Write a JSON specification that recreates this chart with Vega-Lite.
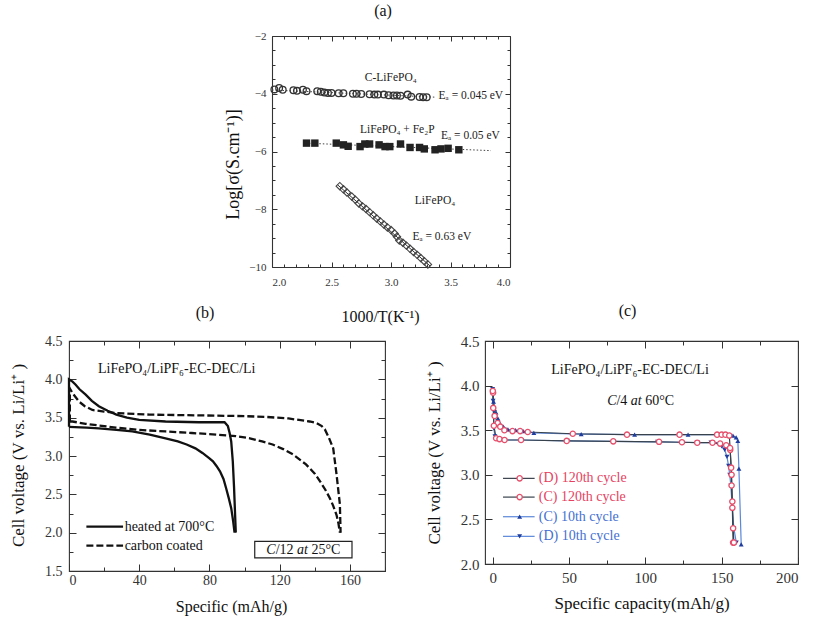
{
  "$schema": "https://vega.github.io/schema/vega-lite/v6.json",
  "background": "white",
  "padding": {"left": 8, "top": 3, "right": 5, "bottom": 5},
  "config": {
    "font": "Liberation Serif",
    "view": {"stroke": "#333", "strokeWidth": 1.1},
    "axis": {"grid": false, "domain": false, "labelOverlap": false, "labelColor": "#333", "titleColor": "#111", "tickColor": "#333", "domainColor": "#333", "domainWidth": 1.1, "titleFontWeight": "normal", "labelFontWeight": "normal", "tickWidth": 1},
    "title": {"fontSize": 16, "fontWeight": "normal", "color": "#111"}
  },
  "datasets": {
    "a_c": [
      {"x": 2.02, "y": -3.85}, {"x": 2.06, "y": -3.80}, {"x": 2.09, "y": -3.86}, {"x": 2.18, "y": -3.88}, {"x": 2.21, "y": -3.90},
      {"x": 2.26, "y": -3.86}, {"x": 2.29, "y": -3.91}, {"x": 2.38, "y": -3.91}, {"x": 2.41, "y": -3.93}, {"x": 2.44, "y": -3.96},
      {"x": 2.47, "y": -3.97}, {"x": 2.50, "y": -3.97}, {"x": 2.56, "y": -3.98}, {"x": 2.60, "y": -3.98}, {"x": 2.68, "y": -4.00},
      {"x": 2.71, "y": -4.00}, {"x": 2.75, "y": -4.01}, {"x": 2.82, "y": -4.02}, {"x": 2.86, "y": -4.03}, {"x": 2.89, "y": -4.03},
      {"x": 2.94, "y": -4.03}, {"x": 2.98, "y": -4.05}, {"x": 3.02, "y": -4.06}, {"x": 3.05, "y": -4.06}, {"x": 3.08, "y": -4.07},
      {"x": 3.14, "y": -4.03}, {"x": 3.17, "y": -4.10}, {"x": 3.24, "y": -4.11}, {"x": 3.27, "y": -4.12}, {"x": 3.30, "y": -4.12}
    ],
    "a_f": [
      {"x": 2.29, "y": -5.71}, {"x": 2.36, "y": -5.71}, {"x": 2.54, "y": -5.71}, {"x": 2.60, "y": -5.77}, {"x": 2.64, "y": -5.82},
      {"x": 2.74, "y": -5.83}, {"x": 2.78, "y": -5.74}, {"x": 2.82, "y": -5.74}, {"x": 2.90, "y": -5.77}, {"x": 2.95, "y": -5.83},
      {"x": 2.99, "y": -5.83}, {"x": 3.08, "y": -5.74}, {"x": 3.16, "y": -5.86}, {"x": 3.24, "y": -5.86}, {"x": 3.28, "y": -5.91},
      {"x": 3.37, "y": -5.94}, {"x": 3.42, "y": -5.91}, {"x": 3.48, "y": -5.89}, {"x": 3.57, "y": -5.94}
    ],
    "a_l": [
      {"x": 2.57, "y": -7.20}, {"x": 2.60, "y": -7.31}, {"x": 2.63, "y": -7.42}, {"x": 2.67, "y": -7.56}, {"x": 2.70, "y": -7.67},
      {"x": 2.73, "y": -7.80}, {"x": 2.76, "y": -7.90}, {"x": 2.79, "y": -7.99}, {"x": 2.82, "y": -8.10}, {"x": 2.85, "y": -8.21},
      {"x": 2.88, "y": -8.32}, {"x": 2.91, "y": -8.42}, {"x": 2.94, "y": -8.53}, {"x": 2.97, "y": -8.63}, {"x": 3.00, "y": -8.72},
      {"x": 3.03, "y": -8.84}, {"x": 3.05, "y": -8.95}, {"x": 3.07, "y": -9.08}, {"x": 3.10, "y": -9.16}, {"x": 3.13, "y": -9.26},
      {"x": 3.16, "y": -9.37}, {"x": 3.19, "y": -9.48}, {"x": 3.22, "y": -9.58}, {"x": 3.25, "y": -9.69}, {"x": 3.28, "y": -9.80},
      {"x": 3.31, "y": -9.91}
    ],
    "a_fit": [
      {"s": "C", "x": 2.0, "y": -3.87}, {"s": "C", "x": 3.38, "y": -4.12},
      {"s": "F", "x": 2.28, "y": -5.71}, {"s": "F", "x": 3.84, "y": -5.97},
      {"s": "L", "x": 2.55, "y": -7.15}, {"s": "L", "x": 3.33, "y": -9.97}
    ],
    "a_txt": [
      {"t": "C-LiFePO₄", "x": 2.78, "y": -3.45},
      {"t": "Eₐ = 0.045 eV", "x": 3.40, "y": -4.08},
      {"t": "LiFePO₄ + Fe₂P", "x": 2.74, "y": -5.25},
      {"t": "Eₐ = 0.05 eV", "x": 3.42, "y": -5.45},
      {"t": "LiFePO₄", "x": 3.20, "y": -7.71},
      {"t": "Eₐ = 0.63 eV", "x": 3.18, "y": -8.97}
    ],
    "b_lines": [
      {"s": "S1", "k": "solid", "i": 0, "x": 0, "y": 3.38}, {"s": "S1", "k": "solid", "i": 1, "x": 10, "y": 3.37},
      {"s": "S1", "k": "solid", "i": 2, "x": 17, "y": 3.36}, {"s": "S1", "k": "solid", "i": 3, "x": 27, "y": 3.34},
      {"s": "S1", "k": "solid", "i": 4, "x": 36, "y": 3.32}, {"s": "S1", "k": "solid", "i": 5, "x": 46, "y": 3.28},
      {"s": "S1", "k": "solid", "i": 6, "x": 55, "y": 3.23}, {"s": "S1", "k": "solid", "i": 7, "x": 62, "y": 3.19},
      {"s": "S1", "k": "solid", "i": 8, "x": 67, "y": 3.15}, {"s": "S1", "k": "solid", "i": 9, "x": 72, "y": 3.10},
      {"s": "S1", "k": "solid", "i": 10, "x": 76, "y": 3.04}, {"s": "S1", "k": "solid", "i": 11, "x": 80, "y": 2.97},
      {"s": "S1", "k": "solid", "i": 12, "x": 82, "y": 2.93}, {"s": "S1", "k": "solid", "i": 13, "x": 84, "y": 2.87},
      {"s": "S1", "k": "solid", "i": 14, "x": 86, "y": 2.80}, {"s": "S1", "k": "solid", "i": 15, "x": 88, "y": 2.70},
      {"s": "S1", "k": "solid", "i": 16, "x": 89.5, "y": 2.58}, {"s": "S1", "k": "solid", "i": 17, "x": 91, "y": 2.45},
      {"s": "S1", "k": "solid", "i": 18, "x": 92.4, "y": 2.32}, {"s": "S1", "k": "solid", "i": 19, "x": 93.5, "y": 2.15},
      {"s": "S1", "k": "solid", "i": 20, "x": 94.3, "y": 2.0},
      {"s": "S2", "k": "solid", "i": 0, "x": 0, "y": 3.38}, {"s": "S2", "k": "solid", "i": 1, "x": 0, "y": 4.0},
      {"s": "S2", "k": "solid", "i": 2, "x": 2, "y": 3.97}, {"s": "S2", "k": "solid", "i": 3, "x": 3.8, "y": 3.93},
      {"s": "S2", "k": "solid", "i": 4, "x": 6, "y": 3.87}, {"s": "S2", "k": "solid", "i": 5, "x": 9.5, "y": 3.80},
      {"s": "S2", "k": "solid", "i": 6, "x": 13, "y": 3.72}, {"s": "S2", "k": "solid", "i": 7, "x": 17, "y": 3.65},
      {"s": "S2", "k": "solid", "i": 8, "x": 22, "y": 3.59}, {"s": "S2", "k": "solid", "i": 9, "x": 27, "y": 3.54},
      {"s": "S2", "k": "solid", "i": 10, "x": 33, "y": 3.50}, {"s": "S2", "k": "solid", "i": 11, "x": 40, "y": 3.47},
      {"s": "S2", "k": "solid", "i": 12, "x": 55, "y": 3.45}, {"s": "S2", "k": "solid", "i": 13, "x": 74, "y": 3.44},
      {"s": "S2", "k": "solid", "i": 14, "x": 88.6, "y": 3.44}, {"s": "S2", "k": "solid", "i": 15, "x": 90.5, "y": 3.39},
      {"s": "S2", "k": "solid", "i": 16, "x": 91.5, "y": 3.30}, {"s": "S2", "k": "solid", "i": 17, "x": 92.4, "y": 3.19},
      {"s": "S2", "k": "solid", "i": 18, "x": 93.3, "y": 2.93}, {"s": "S2", "k": "solid", "i": 19, "x": 94, "y": 2.6},
      {"s": "S2", "k": "solid", "i": 20, "x": 94.5, "y": 2.3}, {"s": "S2", "k": "solid", "i": 21, "x": 95, "y": 2.0},
      {"s": "D1", "k": "dashed", "i": 0, "x": 0.5, "y": 3.45}, {"s": "D1", "k": "dashed", "i": 1, "x": 0.5, "y": 3.88},
      {"s": "D1", "k": "dashed", "i": 2, "x": 2, "y": 3.82}, {"s": "D1", "k": "dashed", "i": 3, "x": 5.7, "y": 3.71},
      {"s": "D1", "k": "dashed", "i": 4, "x": 9, "y": 3.65}, {"s": "D1", "k": "dashed", "i": 5, "x": 13.3, "y": 3.60},
      {"s": "D1", "k": "dashed", "i": 6, "x": 20, "y": 3.58}, {"s": "D1", "k": "dashed", "i": 7, "x": 26.7, "y": 3.56},
      {"s": "D1", "k": "dashed", "i": 8, "x": 45.7, "y": 3.54}, {"s": "D1", "k": "dashed", "i": 9, "x": 74, "y": 3.53},
      {"s": "D1", "k": "dashed", "i": 10, "x": 100, "y": 3.52}, {"s": "D1", "k": "dashed", "i": 11, "x": 112, "y": 3.51},
      {"s": "D1", "k": "dashed", "i": 12, "x": 125, "y": 3.49}, {"s": "D1", "k": "dashed", "i": 13, "x": 131, "y": 3.47},
      {"s": "D1", "k": "dashed", "i": 14, "x": 137, "y": 3.45}, {"s": "D1", "k": "dashed", "i": 15, "x": 141, "y": 3.43},
      {"s": "D1", "k": "dashed", "i": 16, "x": 144, "y": 3.39}, {"s": "D1", "k": "dashed", "i": 17, "x": 145.7, "y": 3.35},
      {"s": "D1", "k": "dashed", "i": 18, "x": 148, "y": 3.24}, {"s": "D1", "k": "dashed", "i": 19, "x": 150.5, "y": 3.10},
      {"s": "D1", "k": "dashed", "i": 20, "x": 152.4, "y": 2.76}, {"s": "D1", "k": "dashed", "i": 21, "x": 154.3, "y": 2.37},
      {"s": "D1", "k": "dashed", "i": 22, "x": 154.7, "y": 2.0},
      {"s": "D2", "k": "dashed", "i": 0, "x": 0.5, "y": 3.45}, {"s": "D2", "k": "dashed", "i": 1, "x": 2, "y": 3.45},
      {"s": "D2", "k": "dashed", "i": 2, "x": 9.5, "y": 3.42}, {"s": "D2", "k": "dashed", "i": 3, "x": 26.7, "y": 3.37},
      {"s": "D2", "k": "dashed", "i": 4, "x": 40, "y": 3.34}, {"s": "D2", "k": "dashed", "i": 5, "x": 55, "y": 3.32},
      {"s": "D2", "k": "dashed", "i": 6, "x": 70, "y": 3.30}, {"s": "D2", "k": "dashed", "i": 7, "x": 83.8, "y": 3.28},
      {"s": "D2", "k": "dashed", "i": 8, "x": 95, "y": 3.26}, {"s": "D2", "k": "dashed", "i": 9, "x": 103, "y": 3.23},
      {"s": "D2", "k": "dashed", "i": 10, "x": 110, "y": 3.19}, {"s": "D2", "k": "dashed", "i": 11, "x": 116, "y": 3.15},
      {"s": "D2", "k": "dashed", "i": 12, "x": 122, "y": 3.09}, {"s": "D2", "k": "dashed", "i": 13, "x": 127.6, "y": 3.02},
      {"s": "D2", "k": "dashed", "i": 14, "x": 135, "y": 2.89}, {"s": "D2", "k": "dashed", "i": 15, "x": 140, "y": 2.77},
      {"s": "D2", "k": "dashed", "i": 16, "x": 143, "y": 2.67}, {"s": "D2", "k": "dashed", "i": 17, "x": 146, "y": 2.56},
      {"s": "D2", "k": "dashed", "i": 18, "x": 148.6, "y": 2.45}, {"s": "D2", "k": "dashed", "i": 19, "x": 150.5, "y": 2.35},
      {"s": "D2", "k": "dashed", "i": 20, "x": 152.4, "y": 2.23}, {"s": "D2", "k": "dashed", "i": 21, "x": 153.5, "y": 2.12},
      {"s": "D2", "k": "dashed", "i": 22, "x": 154.3, "y": 2.0}
    ],
    "b_leg": [
      {"s": "LS", "k": "solid", "x": 9.9, "y": 2.08}, {"s": "LS", "k": "solid", "x": 30.8, "y": 2.08},
      {"s": "LD", "k": "dashed", "x": 9.9, "y": 1.83}, {"s": "LD", "k": "dashed", "x": 30.8, "y": 1.83}
    ],
    "b_box": [{"x": 105.8, "x2": 161.2, "y": 1.67, "y2": 1.887}],
    "b_txt": [
      {"t": "LiFePO₄/LiPF₆-EC-DEC/Li", "x": 16.5, "y": 4.13},
      {"t": "heated at 700°C", "x": 31.7, "y": 2.08},
      {"t": "carbon coated", "x": 31.7, "y": 1.83},
      {"t": "/12", "x": 117.7, "y": 1.78},
      {"t": "25°C", "x": 138.1, "y": 1.78}
    ],
    "b_ital": [
      {"t": "C", "x": 112.4, "y": 1.78},
      {"t": "at", "x": 129.9, "y": 1.78}
    ],
    "c_pts": [
      {"s": "C10", "i": 0, "x": 0.2, "y": 3.95}, {"s": "C10", "i": 1, "x": 0.6, "y": 3.82}, {"s": "C10", "i": 2, "x": 1.2, "y": 3.74},
      {"s": "C10", "i": 3, "x": 2.2, "y": 3.70}, {"s": "C10", "i": 4, "x": 3.5, "y": 3.63}, {"s": "C10", "i": 5, "x": 5, "y": 3.57},
      {"s": "C10", "i": 6, "x": 7, "y": 3.54}, {"s": "C10", "i": 7, "x": 10, "y": 3.51}, {"s": "C10", "i": 8, "x": 15, "y": 3.50},
      {"s": "C10", "i": 9, "x": 20, "y": 3.49}, {"s": "C10", "i": 10, "x": 27, "y": 3.47}, {"s": "C10", "i": 11, "x": 58, "y": 3.455},
      {"s": "C10", "i": 12, "x": 93, "y": 3.45}, {"s": "C10", "i": 13, "x": 128, "y": 3.45}, {"s": "C10", "i": 14, "x": 152, "y": 3.45},
      {"s": "C10", "i": 15, "x": 155.2, "y": 3.45}, {"s": "C10", "i": 16, "x": 157.4, "y": 3.44}, {"s": "C10", "i": 17, "x": 159.5, "y": 3.42},
      {"s": "C10", "i": 18, "x": 160.6, "y": 3.38}, {"s": "C10", "i": 19, "x": 161.3, "y": 3.07}, {"s": "C10", "i": 20, "x": 162.8, "y": 2.22},
      {"s": "D10", "i": 0, "x": 0, "y": 3.96}, {"s": "D10", "i": 1, "x": 0.3, "y": 3.83}, {"s": "D10", "i": 2, "x": 0.6, "y": 3.72},
      {"s": "D10", "i": 3, "x": 0.8, "y": 3.52}, {"s": "D10", "i": 4, "x": 1.5, "y": 3.43}, {"s": "D10", "i": 5, "x": 3, "y": 3.40},
      {"s": "D10", "i": 6, "x": 5, "y": 3.395}, {"s": "D10", "i": 7, "x": 8, "y": 3.39}, {"s": "D10", "i": 8, "x": 19, "y": 3.39},
      {"s": "D10", "i": 9, "x": 49, "y": 3.38}, {"s": "D10", "i": 10, "x": 79, "y": 3.375}, {"s": "D10", "i": 11, "x": 108, "y": 3.37},
      {"s": "D10", "i": 12, "x": 124, "y": 3.365}, {"s": "D10", "i": 13, "x": 134, "y": 3.36}, {"s": "D10", "i": 14, "x": 143, "y": 3.36},
      {"s": "D10", "i": 15, "x": 148, "y": 3.345}, {"s": "D10", "i": 16, "x": 150, "y": 3.32}, {"s": "D10", "i": 17, "x": 152, "y": 3.28},
      {"s": "D10", "i": 18, "x": 153.5, "y": 3.2}, {"s": "D10", "i": 19, "x": 154.5, "y": 3.1}, {"s": "D10", "i": 20, "x": 155.3, "y": 3.0},
      {"s": "D10", "i": 21, "x": 156, "y": 2.88}, {"s": "D10", "i": 22, "x": 157, "y": 2.62}, {"s": "D10", "i": 23, "x": 158, "y": 2.40},
      {"s": "D10", "i": 24, "x": 159.6, "y": 2.24},
      {"s": "C120", "i": 0, "x": 0.3, "y": 3.92}, {"s": "C120", "i": 1, "x": 1.3, "y": 3.66}, {"s": "C120", "i": 2, "x": 3.3, "y": 3.58},
      {"s": "C120", "i": 3, "x": 5, "y": 3.54}, {"s": "C120", "i": 4, "x": 7.7, "y": 3.50}, {"s": "C120", "i": 5, "x": 13, "y": 3.49},
      {"s": "C120", "i": 6, "x": 18, "y": 3.49}, {"s": "C120", "i": 7, "x": 23, "y": 3.48}, {"s": "C120", "i": 8, "x": 52.5, "y": 3.46},
      {"s": "C120", "i": 9, "x": 88, "y": 3.45}, {"s": "C120", "i": 10, "x": 122.4, "y": 3.45}, {"s": "C120", "i": 11, "x": 147, "y": 3.45},
      {"s": "C120", "i": 12, "x": 150, "y": 3.45}, {"s": "C120", "i": 13, "x": 152.5, "y": 3.45}, {"s": "C120", "i": 14, "x": 155, "y": 3.44},
      {"s": "C120", "i": 15, "x": 155.6, "y": 3.28}, {"s": "C120", "i": 16, "x": 156.2, "y": 3.08}, {"s": "C120", "i": 17, "x": 156.5, "y": 2.88},
      {"s": "C120", "i": 18, "x": 157, "y": 2.63}, {"s": "C120", "i": 19, "x": 157.5, "y": 2.24},
      {"s": "D120", "i": 0, "x": 0.1, "y": 3.94}, {"s": "D120", "i": 1, "x": 0.4, "y": 3.75}, {"s": "D120", "i": 2, "x": 0.8, "y": 3.55},
      {"s": "D120", "i": 3, "x": 2.3, "y": 3.41}, {"s": "D120", "i": 4, "x": 4.5, "y": 3.40}, {"s": "D120", "i": 5, "x": 7.8, "y": 3.39},
      {"s": "D120", "i": 6, "x": 18.6, "y": 3.39}, {"s": "D120", "i": 7, "x": 48.5, "y": 3.38}, {"s": "D120", "i": 8, "x": 79, "y": 3.375},
      {"s": "D120", "i": 9, "x": 109, "y": 3.37}, {"s": "D120", "i": 10, "x": 124, "y": 3.365}, {"s": "D120", "i": 11, "x": 134, "y": 3.36},
      {"s": "D120", "i": 12, "x": 144, "y": 3.36}, {"s": "D120", "i": 13, "x": 149, "y": 3.35}, {"s": "D120", "i": 14, "x": 153, "y": 3.33},
      {"s": "D120", "i": 15, "x": 155.5, "y": 3.30}, {"s": "D120", "i": 16, "x": 156.5, "y": 3.0}, {"s": "D120", "i": 17, "x": 157, "y": 2.7},
      {"s": "D120", "i": 18, "x": 157.5, "y": 2.4}, {"s": "D120", "i": 19, "x": 158, "y": 2.24}
    ],
    "c_leg_line": [
      {"s": "D120", "x": 6.8, "y": 2.96}, {"s": "D120", "x": 27.5, "y": 2.96},
      {"s": "C120", "x": 6.8, "y": 2.75}, {"s": "C120", "x": 27.5, "y": 2.75},
      {"s": "C10", "x": 6.8, "y": 2.53}, {"s": "C10", "x": 27.5, "y": 2.53},
      {"s": "D10", "x": 6.8, "y": 2.31}, {"s": "D10", "x": 27.5, "y": 2.31}
    ],
    "c_leg_pt": [
      {"s": "D120", "x": 17.7, "y": 2.96}, {"s": "C120", "x": 17.7, "y": 2.75},
      {"s": "C10", "x": 17.7, "y": 2.53}, {"s": "D10", "x": 17.7, "y": 2.31}
    ],
    "c_leg_txt": [
      {"s": "D120", "t": "(D) 120th cycle", "x": 30.2, "y": 2.96},
      {"s": "C120", "t": "(C) 120th cycle", "x": 30.2, "y": 2.75},
      {"s": "C10", "t": "(C) 10th cycle", "x": 30.2, "y": 2.53},
      {"s": "D10", "t": "(D) 10th cycle", "x": 30.2, "y": 2.31}
    ],
    "c_txt": [
      {"t": "/4", "x": 81.1, "y": 3.83},
      {"t": "60°C", "x": 99.9, "y": 3.83}
    ],
    "c_ital": [
      {"t": "C", "x": 75.0, "y": 3.83},
      {"t": "at", "x": 90.5, "y": 3.83}
    ],
    "c_head": [
      {"t": "LiFePO₄/LiPF₆-EC-DEC/Li", "x": 90, "y": 4.18}
    ]
  },
  "columns": 2,
  "align": "all",
  "bounds": "flush",
  "spacing": {"row": 74, "column": 0},
  "concat": [
    {
      "width": 416, "height": 231,
      "view": {"stroke": null},
      "title": {"text": "(a)", "frame": "group", "anchor": "middle", "offset": -2, "dx": 106, "baseline": "alphabetic"},
      "resolve": {"scale": {"x": "independent", "y": "independent"}},
      "layer": [
        {
          "layer": [
            {
              "data": {"name": "a_fit"},
              "transform": [{"filter": {"field": "s", "oneOf": ["C", "F"]}}],
              "mark": {"type": "line", "strokeWidth": 1, "color": "#444", "strokeDash": [1.5, 2]},
              "encoding": {
                "x": {"field": "x", "type": "quantitative", "scale": {"domain": [2, 4], "range": [203, 441], "nice": false, "zero": false},
                  "axis": {"values": [2, 2.5, 3, 3.5, 4], "format": ".1f",
                    "domain": true, "tickSize": -5, "labelPadding": 14, "labelFontSize": 11,
                    "title": "1000/T(K⁻¹)", "titleFontSize": 16, "titleX": 311, "titleY": 54, "titleBaseline": "alphabetic", "titleAlign": "center"}},
                "y": {"field": "y", "type": "quantitative", "scale": {"domain": [-10, -2], "nice": false, "zero": false},
                  "axis": {"values": [-10, -8, -6, -4, -2],
                    "domain": true, "offset": -203,
                    "labelExpr": "'−' + format(abs(datum.value), 'd')",
                    "tickSize": -5, "labelPadding": 11, "labelFontSize": 11,
                    "title": "Log[σ(S.cm⁻¹)]", "titleFontSize": 18, "titleX": -39, "titleY": 128, "titleAngle": 270, "titleAlign": "center", "titleBaseline": "middle"}},
                "detail": {"field": "s"}
              }
            },
            {
              "data": {"name": "a_fit"},
              "transform": [{"filter": {"field": "s", "equal": "L"}}],
              "mark": {"type": "line", "strokeWidth": 1, "color": "#333"},
              "encoding": {"x": {"field": "x", "type": "quantitative"}, "y": {"field": "y", "type": "quantitative"}}
            },
            {
              "data": {"name": "a_c"},
              "mark": {"type": "point", "shape": "circle", "filled": false, "stroke": "#333", "strokeWidth": 1.3, "size": 45, "opacity": 1},
              "encoding": {"x": {"field": "x", "type": "quantitative"}, "y": {"field": "y", "type": "quantitative"}}
            },
            {
              "data": {"name": "a_f"},
              "mark": {"type": "point", "shape": "square", "filled": true, "color": "#222", "size": 55, "opacity": 1},
              "encoding": {"x": {"field": "x", "type": "quantitative"}, "y": {"field": "y", "type": "quantitative"}}
            },
            {
              "data": {"name": "a_l"},
              "mark": {"type": "point", "shape": "diamond", "filled": false, "stroke": "#444", "strokeWidth": 1.1, "size": 55, "opacity": 1},
              "encoding": {"x": {"field": "x", "type": "quantitative"}, "y": {"field": "y", "type": "quantitative"}}
            },
            {
              "data": {"name": "a_txt"},
              "mark": {"type": "text", "align": "left", "baseline": "middle", "fontSize": 11.5, "color": "#222"},
              "encoding": {"x": {"field": "x", "type": "quantitative"}, "y": {"field": "y", "type": "quantitative"}, "text": {"field": "t"}}
            }
          ]
        },
        {
          "data": {"name": "a_c"},
          "mark": {"type": "point", "opacity": 0},
          "encoding": {
            "x": {"field": "x", "type": "quantitative", "scale": {"domain": [2, 4], "range": [203, 441], "nice": false, "zero": false},
              "axis": {"orient": "top", "labels": false, "title": null, "domain": true,
                "values": [2, 2.1, 2.2, 2.3, 2.4, 2.5, 2.6, 2.7, 2.8, 2.9, 3, 3.1, 3.2, 3.3, 3.4, 3.5, 3.6, 3.7, 3.8, 3.9, 4],
                "tickSize": {"condition": {"test": "abs(datum.value*2 - round(datum.value*2)) < 0.001", "value": -5}, "value": -3}}},
            "y": {"field": "y", "type": "quantitative", "scale": {"domain": [-10, -2], "nice": false, "zero": false},
              "axis": {"orient": "right", "labels": false, "title": null, "domain": true, "offset": 25,
                "values": [-10, -9.5, -9, -8.5, -8, -7.5, -7, -6.5, -6, -5.5, -5, -4.5, -4, -3.5, -3, -2.5, -2],
                "tickSize": {"condition": {"test": "datum.value % 2 == 0", "value": -5}, "value": -3}}}
          }
        },
        {
          "data": {"name": "a_f"},
          "mark": {"type": "point", "opacity": 0},
          "encoding": {
            "x": {"field": "x", "type": "quantitative", "scale": {"domain": [2, 4], "range": [203, 441], "nice": false, "zero": false},
              "axis": {"orient": "bottom", "labels": false, "title": null, "domain": false, "tickSize": -3,
                "values": [2.1, 2.2, 2.3, 2.4, 2.6, 2.7, 2.8, 2.9, 3.1, 3.2, 3.3, 3.4, 3.6, 3.7, 3.8, 3.9]}},
            "y": {"field": "y", "type": "quantitative", "scale": {"domain": [-10, -2], "nice": false, "zero": false},
              "axis": {"orient": "left", "labels": false, "title": null, "domain": false, "offset": -203, "tickSize": -3,
                "values": [-9.5, -9, -8.5, -7.5, -7, -6.5, -5.5, -5, -4.5, -3.5, -3, -2.5]}}
          }
        }
      ]
    },
    {
      "width": 1, "height": 1,
      "view": {"stroke": null},
      "data": {"values": [{"t": ""}]},
      "mark": {"type": "text"},
      "encoding": {"text": {"field": "t"}}
    },
    {
      "width": 316, "height": 230,
      "title": {"text": "(b)", "frame": "group", "offset": 0, "dx": -22, "baseline": "alphabetic"},
      "resolve": {"scale": {"x": "independent", "y": "independent"}},
      "layer": [
        {
          "layer": [
            {
              "data": {"name": "b_lines"},
              "transform": [{"filter": {"field": "k", "equal": "solid"}}],
              "mark": {"type": "line", "strokeWidth": 2.3, "color": "#111"},
              "encoding": {
                "x": {"field": "x", "type": "quantitative", "scale": {"domain": [0, 180], "nice": false, "zero": false},
                  "axis": {"values": [0, 40, 80, 120, 160], "format": "d",
                    "tickSize": -7, "labelPadding": 9, "labelFontSize": 14,
                    "title": "Specific (mAh/g)", "titleFontSize": 16, "titleX": 162, "titleY": 40, "titleBaseline": "alphabetic", "titleAlign": "center"}},
                "y": {"field": "y", "type": "quantitative", "scale": {"domain": [1.5, 4.5], "nice": false, "zero": false},
                  "axis": {"values": [1.5, 2.5, 3.5, 4.5], "format": ".1f",
                    "tickSize": -7, "labelPadding": 14, "labelFontSize": 14,
                    "title": "Cell voltage (V vs. Li/Li⁺ )", "titleFontSize": 17, "titleX": -51, "titleY": 114, "titleAngle": 270, "titleAlign": "center", "titleBaseline": "middle"}},
                "detail": {"field": "s"},
                "order": {"field": "i", "type": "quantitative"}
              }
            },
            {
              "data": {"name": "b_lines"},
              "transform": [{"filter": {"field": "k", "equal": "dashed"}}],
              "mark": {"type": "line", "strokeWidth": 2.3, "color": "#111", "strokeDash": [7, 3]},
              "encoding": {
                "x": {"field": "x", "type": "quantitative"}, "y": {"field": "y", "type": "quantitative"},
                "detail": {"field": "s"},
                "order": {"field": "i", "type": "quantitative"}
              }
            },
            {
              "data": {"name": "b_leg"},
              "transform": [{"filter": {"field": "k", "equal": "solid"}}],
              "mark": {"type": "line", "strokeWidth": 2.3, "color": "#111"},
              "encoding": {"x": {"field": "x", "type": "quantitative"}, "y": {"field": "y", "type": "quantitative"}}
            },
            {
              "data": {"name": "b_leg"},
              "transform": [{"filter": {"field": "k", "equal": "dashed"}}],
              "mark": {"type": "line", "strokeWidth": 2.3, "color": "#111", "strokeDash": [7, 3]},
              "encoding": {"x": {"field": "x", "type": "quantitative"}, "y": {"field": "y", "type": "quantitative"}}
            },
            {
              "data": {"name": "b_box"},
              "mark": {"type": "rect", "fill": "white", "stroke": "#222", "strokeWidth": 1.2},
              "encoding": {
                "x": {"field": "x", "type": "quantitative"}, "x2": {"field": "x2"},
                "y": {"field": "y", "type": "quantitative"}, "y2": {"field": "y2"}
              }
            },
            {
              "data": {"name": "b_txt"},
              "mark": {"type": "text", "align": "left", "baseline": "middle", "fontSize": 14, "color": "#111"},
              "encoding": {"x": {"field": "x", "type": "quantitative"}, "y": {"field": "y", "type": "quantitative"}, "text": {"field": "t"}}
            },
            {
              "data": {"name": "b_ital"},
              "mark": {"type": "text", "align": "left", "baseline": "middle", "fontSize": 14, "fontStyle": "italic", "color": "#111"},
              "encoding": {"x": {"field": "x", "type": "quantitative"}, "y": {"field": "y", "type": "quantitative"}, "text": {"field": "t"}}
            }
          ]
        },
        {
          "data": {"name": "b_box"},
          "mark": {"type": "point", "opacity": 0},
          "encoding": {
            "x": {"field": "x", "type": "quantitative", "scale": {"domain": [0, 180], "nice": false, "zero": false},
              "axis": {"orient": "top", "labels": false, "title": null, "values": [0, 20, 40, 60, 80, 100, 120, 140, 160, 180],
                "tickSize": {"condition": {"test": "datum.value % 40 == 0", "value": -7}, "value": -4}}},
            "y": {"field": "y", "type": "quantitative", "scale": {"domain": [1.5, 4.5], "nice": false, "zero": false},
              "axis": {"orient": "right", "labels": false, "title": null, "values": [1.5, 1.75, 2, 2.25, 2.5, 2.75, 3, 3.25, 3.5, 3.75, 4, 4.25, 4.5],
                "tickSize": {"condition": {"test": "abs(datum.value*2 - round(datum.value*2)) < 0.001", "value": -7}, "value": -4}}}
          }
        },
        {
          "data": {"name": "b_leg"},
          "mark": {"type": "point", "opacity": 0},
          "encoding": {
            "x": {"field": "x", "type": "quantitative", "scale": {"domain": [0, 180], "nice": false, "zero": false},
              "axis": {"orient": "bottom", "labels": false, "title": null, "tickSize": -4, "values": [20, 60, 100, 140, 180]}},
            "y": {"field": "y", "type": "quantitative", "scale": {"domain": [1.5, 4.5], "nice": false, "zero": false},
              "axis": {"orient": "left", "labels": false, "title": null, "tickSize": -4, "values": [1.75, 2.25, 2.75, 3.25, 3.75, 4.25]}}
          }
        },
        {
          "data": {"name": "b_box"},
          "mark": {"type": "point", "opacity": 0},
          "encoding": {
            "x": {"field": "x", "type": "quantitative", "scale": {"domain": [0, 180], "nice": false, "zero": false}, "axis": null},
            "y": {"field": "y", "type": "quantitative", "scale": {"domain": [1.5, 4.5], "nice": false, "zero": false},
              "axis": {"orient": "left", "title": null, "values": [2, 3, 4], "format": ".1f", "tickSize": -7, "labelPadding": 14, "labelFontSize": 14}}
          }
        }
      ]
    },
    {
      "width": 313, "height": 223,
      "title": {"text": "(c)", "frame": "group", "offset": 2, "dx": -14, "baseline": "alphabetic"},
      "resolve": {"scale": {"x": "independent", "y": "independent"}},
      "layer": [
        {
          "layer": [
            {
              "data": {"name": "c_pts"},
              "mark": {"type": "line", "strokeWidth": 1.2},
              "encoding": {
                "x": {"field": "x", "type": "quantitative", "scale": {"domain": [-5, 200], "nice": false, "zero": false},
                  "axis": {"values": [0, 50, 100, 150, 200], "format": "d",
                    "tickSize": -7, "labelPadding": 13, "labelFontSize": 15,
                    "title": "Specific capacity(mAh/g)", "titleFontSize": 17, "titleX": 156.5, "titleY": 44, "titleBaseline": "alphabetic", "titleAlign": "center"}},
                "y": {"field": "y", "type": "quantitative", "scale": {"domain": [2, 4.5], "nice": false, "zero": false},
                  "axis": {"values": [2, 2.5, 3, 3.5, 4, 4.5], "format": ".1f",
                    "tickSize": -7, "labelPadding": 13, "labelFontSize": 15,
                    "title": "Cell voltage (V vs. Li/Li⁺ )", "titleFontSize": 17, "titleX": -51, "titleY": 111.5, "titleAngle": 270, "titleAlign": "center", "titleBaseline": "middle"}},
                "stroke": {"field": "s", "type": "nominal", "scale": {"domain": ["C10", "D10", "C120", "D120"], "range": ["#5b87d9", "#5b87d9", "#38424c", "#38424c"]}, "legend": null},
                "order": {"field": "i", "type": "quantitative"}
              }
            },
            {
              "data": {"name": "c_leg_line"},
              "mark": {"type": "line", "strokeWidth": 1.2},
              "encoding": {
                "x": {"field": "x", "type": "quantitative"}, "y": {"field": "y", "type": "quantitative"},
                "stroke": {"field": "s", "type": "nominal", "legend": null}
              }
            },
            {
              "data": {"name": "c_pts"},
              "transform": [{"filter": {"field": "s", "oneOf": ["C10", "D10"]}}],
              "mark": {"type": "point", "filled": true, "color": "#1e3d9e", "size": 24, "opacity": 1},
              "encoding": {
                "x": {"field": "x", "type": "quantitative"}, "y": {"field": "y", "type": "quantitative"},
                "shape": {"field": "s", "type": "nominal", "scale": {"domain": ["C10", "D10"], "range": ["triangle-up", "triangle-down"]}, "legend": null}
              }
            },
            {
              "data": {"name": "c_leg_pt"},
              "transform": [{"filter": {"field": "s", "oneOf": ["C10", "D10"]}}],
              "mark": {"type": "point", "filled": true, "color": "#1e3d9e", "size": 24, "opacity": 1},
              "encoding": {
                "x": {"field": "x", "type": "quantitative"}, "y": {"field": "y", "type": "quantitative"},
                "shape": {"field": "s", "type": "nominal", "legend": null}
              }
            },
            {
              "data": {"name": "c_pts"},
              "transform": [{"filter": {"field": "s", "oneOf": ["C120", "D120"]}}],
              "mark": {"type": "point", "shape": "circle", "filled": true, "fill": "white", "stroke": "#e5506c", "strokeWidth": 1.3, "size": 28, "opacity": 1},
              "encoding": {"x": {"field": "x", "type": "quantitative"}, "y": {"field": "y", "type": "quantitative"}}
            },
            {
              "data": {"name": "c_leg_pt"},
              "transform": [{"filter": {"field": "s", "oneOf": ["C120", "D120"]}}],
              "mark": {"type": "point", "shape": "circle", "filled": true, "fill": "white", "stroke": "#e5506c", "strokeWidth": 1.3, "size": 28, "opacity": 1},
              "encoding": {"x": {"field": "x", "type": "quantitative"}, "y": {"field": "y", "type": "quantitative"}}
            },
            {
              "data": {"name": "c_leg_txt"},
              "mark": {"type": "text", "align": "left", "baseline": "middle", "fontSize": 14},
              "encoding": {
                "x": {"field": "x", "type": "quantitative"}, "y": {"field": "y", "type": "quantitative"}, "text": {"field": "t"},
                "fill": {"field": "s", "type": "nominal", "scale": {"domain": ["C10", "D10", "C120", "D120"], "range": ["#4470d2", "#4470d2", "#e6425f", "#e6425f"]}, "legend": null}
              }
            },
            {
              "data": {"name": "c_head"},
              "mark": {"type": "text", "align": "center", "baseline": "middle", "fontSize": 14, "color": "#111"},
              "encoding": {"x": {"field": "x", "type": "quantitative"}, "y": {"field": "y", "type": "quantitative"}, "text": {"field": "t"}}
            },
            {
              "data": {"name": "c_txt"},
              "mark": {"type": "text", "align": "left", "baseline": "middle", "fontSize": 14, "color": "#111"},
              "encoding": {"x": {"field": "x", "type": "quantitative"}, "y": {"field": "y", "type": "quantitative"}, "text": {"field": "t"}}
            },
            {
              "data": {"name": "c_ital"},
              "mark": {"type": "text", "align": "left", "baseline": "middle", "fontSize": 14, "fontStyle": "italic", "color": "#111"},
              "encoding": {"x": {"field": "x", "type": "quantitative"}, "y": {"field": "y", "type": "quantitative"}, "text": {"field": "t"}}
            }
          ]
        },
        {
          "data": {"name": "c_head"},
          "mark": {"type": "point", "opacity": 0},
          "encoding": {
            "x": {"field": "x", "type": "quantitative", "scale": {"domain": [-5, 200], "nice": false, "zero": false},
              "axis": {"orient": "top", "labels": false, "title": null, "values": [0, 25, 50, 75, 100, 125, 150, 175, 200],
                "tickSize": {"condition": {"test": "datum.value % 50 == 0", "value": -7}, "value": -4}}},
            "y": {"field": "y", "type": "quantitative", "scale": {"domain": [2, 4.5], "nice": false, "zero": false},
              "axis": {"orient": "right", "labels": false, "title": null, "values": [2, 2.5, 3, 3.5, 4, 4.5], "tickSize": -7}}
          }
        },
        {
          "data": {"name": "c_leg_pt"},
          "mark": {"type": "point", "opacity": 0},
          "encoding": {
            "x": {"field": "x", "type": "quantitative", "scale": {"domain": [-5, 200], "nice": false, "zero": false},
              "axis": {"orient": "bottom", "labels": false, "title": null, "tickSize": -4, "values": [25, 75, 125, 175]}},
            "y": {"field": "y", "type": "quantitative", "scale": {"domain": [2, 4.5], "nice": false, "zero": false}, "axis": null}
          }
        }
      ]
    }
  ]
}
